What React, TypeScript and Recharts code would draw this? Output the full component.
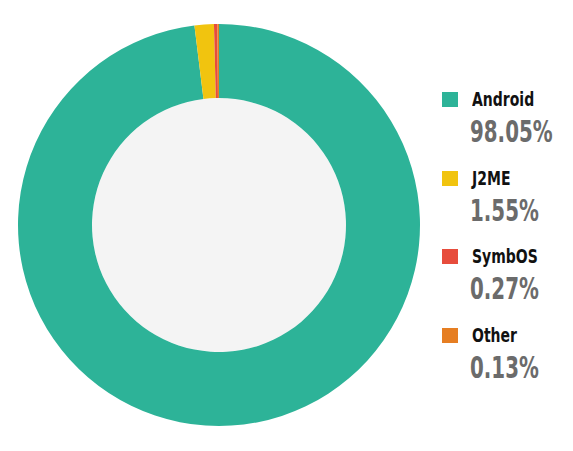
import * as React from 'react';
import { PieChart, Pie, Cell, Legend } from 'recharts';

const names = ['Android', 'J2ME', 'SymbOS', 'Other'];
const shares = [98.05, 1.55, 0.27, 0.13];
const colors = ['#2db398', '#f1c40f', '#e74c3c', '#e67e22'];

const data = names.map((name, i) => ({ name, value: shares[i] }));

const font = '"DejaVu Sans", sans-serif';

// no condensed font installed, so squeeze the text horizontally
const squeeze: React.CSSProperties = {
  position: 'absolute', fontWeight: 'bold', whiteSpace: 'nowrap',
  transformOrigin: 'left center'
};

const renderLegend = () => (
  <div style={{ position: 'relative', width: 130, height: 320, fontFamily: font }}>
    {data.map((d, i) => (
      <div key={d.name} style={{ position: 'absolute', left: 0, top: i * 78.7 }}>
        <div style={{ position: 'absolute', left: 0, top: 0, width: 16, height: 15, background: colors[i] }} />
        <div style={{ ...squeeze, left: 30, top: -5, fontSize: 20, color: '#111', lineHeight: '24px', transform: 'scaleX(0.7)' }}>
          {d.name}
        </div>
        <div style={{ ...squeeze, left: 28, top: 22, fontSize: 31, color: '#6b6b6b', lineHeight: '34px', transform: 'scaleX(0.64)' }}>
          {d.value.toFixed(2)}%
        </div>
      </div>
    ))}
  </div>
);

export default function App() {
  return (
    <PieChart width={557} height={435} margin={{ top: 0, right: 0, bottom: 0, left: 0 }}>
      <Pie
        data={[{ value: 1 }]}
        dataKey="value"
        cx={211}
        cy={217}
        innerRadius={0}
        outerRadius={127}
        fill="#f4f4f4"
        stroke="none"
        isAnimationActive={false}
        legendType="none"
      />
      <Pie
        data={data}
        dataKey="value"
        nameKey="name"
        cx={211}
        cy={217}
        innerRadius={127}
        outerRadius={201}
        startAngle={90}
        endAngle={-270}
        stroke="none"
        isAnimationActive={false}
      >
        {data.map((d, i) => (
          <Cell key={d.name} fill={colors[i]} />
        ))}
      </Pie>
      <Legend
        content={renderLegend}
        wrapperStyle={{ left: 434, top: 84, width: 130 }}
      />
    </PieChart>
  );
}
